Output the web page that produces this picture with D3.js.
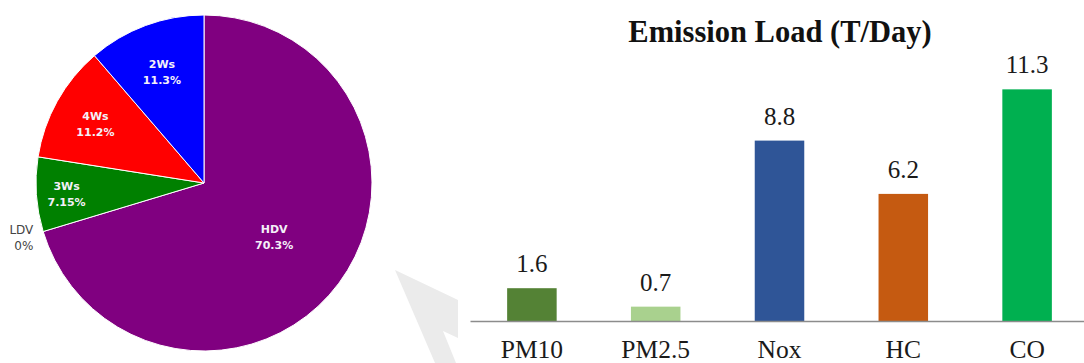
<!DOCTYPE html>
<html>
<head>
<meta charset="utf-8">
<script src="https://cdn.jsdelivr.net/npm/d3@7"></script>
<style>
  html, body { margin: 0; padding: 0; background: #fff; }
  svg { display: block; }
</style>
</head>
<body>
<svg id="chart" width="1084" height="363"></svg>
<script>
// Vehicle category shares (%) of emission load
const vehicleTypes = ["HDV", "LDV", "3Ws", "4Ws", "2Ws"];
const vehicleShares = [70.3, 0, 7.15, 11.2, 11.3];
const vehicleLabels = ["70.3%", "0%", "7.15%", "11.2%", "11.3%"];
const vehicleColors = ["#800080", "#1f77b4", "#008000", "#ff0000", "#0000ff"];

// Pollutant emission loads (T/Day)
const pollutants = ["PM10", "PM2.5", "Nox", "HC", "CO"];
const loads = [1.6, 0.7, 8.8, 6.2, 11.3];
const loadColors = ["#548235", "#a9d18e", "#2f5597", "#c55a11", "#00b050"];

const svg = d3.select("#chart");

// ---- decorative arrow behind the panels ----
svg.append("polygon")
  .attr("points", "395,270 458,300 458,338 443,331 456,363 435,363")
  .attr("fill", "#ebebeb");

// ---- pie chart ----
const cx = 204, cy = 183, R = 168;
const pie = d3.pie().sort(null).value(d => d.v);
const pieData = pie(vehicleTypes.map((t, i) => ({ t, v: vehicleShares[i], lbl: vehicleLabels[i], c: vehicleColors[i] })));
const arc = d3.arc().innerRadius(0).outerRadius(R);
const gPie = svg.append("g").attr("transform", `translate(${cx},${cy})`);

gPie.selectAll("path.slice")
  .data(pieData.filter(d => d.data.v > 0))
  .join("path")
  .attr("class", "slice")
  .attr("d", arc)
  .attr("fill", d => d.data.c)
  .attr("stroke", "#fff")
  .attr("stroke-width", 1);

// radial position of inside labels, as a fraction of the radius
const labelRadius = { "HDV": 0.52, "3Ws": 0.82, "4Ws": 0.74, "2Ws": 0.72 };
const font = "'DejaVu Sans', Verdana, sans-serif";

pieData.forEach(d => {
  const mid = (d.startAngle + d.endAngle) / 2;
  const inside = d.data.v > 0;
  let x, y, anchor;
  if (inside) {
    const r = R * labelRadius[d.data.t];
    x = Math.sin(mid) * r;
    y = -Math.cos(mid) * r;
    anchor = "middle";
  } else {
    const r = R + 4;
    x = Math.sin(mid) * r - 6;
    y = -Math.cos(mid) * r + 3;
    anchor = "end";
  }
  const t = gPie.append("text")
    .attr("text-anchor", anchor)
    .attr("font-family", font)
    .attr("font-size", inside ? 11 : 12)
    .attr("font-weight", inside ? "bold" : "normal")
    .attr("fill", inside ? "#f4f0f8" : "#444");
  t.append("tspan").attr("x", x).attr("y", y - 2).text(d.data.t);
  t.append("tspan").attr("x", x).attr("y", y + 14).text(d.data.lbl);
});

// ---- bar chart ----
const serif = "'Liberation Serif', 'Times New Roman', serif";
const x = d3.scaleBand().domain(pollutants).range([470, 1089]).paddingInner(0.6).paddingOuter(0.3);
const y = d3.scaleLinear().domain([0, 12]).range([321, 75]);

const gBar = svg.append("g");
gBar.selectAll("rect.bar")
  .data(pollutants)
  .join("rect")
  .attr("class", "bar")
  .attr("x", d => x(d))
  .attr("width", x.bandwidth())
  .attr("y", (d, i) => y(loads[i]))
  .attr("height", (d, i) => y(0) - y(loads[i]))
  .attr("fill", (d, i) => loadColors[i]);

const axis = gBar.append("g")
  .attr("transform", `translate(0,${y(0)})`)
  .call(d3.axisBottom(x).tickSize(0).tickPadding(0));
axis.select(".domain").attr("stroke", "#8c8c8c").attr("stroke-width", 1.5);
axis.selectAll(".tick text")
  .attr("dy", null)
  .attr("y", 36.5)
  .attr("font-family", serif)
  .attr("font-size", 25.5)
  .attr("fill", "#1a1a1a");

gBar.selectAll("text.value")
  .data(pollutants)
  .join("text")
  .attr("class", "value")
  .attr("x", d => x(d) + x.bandwidth() / 2)
  .attr("y", (d, i) => y(loads[i]) - 16)
  .attr("text-anchor", "middle")
  .attr("font-family", serif)
  .attr("font-size", 25)
  .attr("fill", "#1a1a1a")
  .text((d, i) => loads[i].toFixed(1));

svg.append("text")
  .attr("x", 780)
  .attr("y", 42)
  .attr("text-anchor", "middle")
  .attr("font-family", serif)
  .attr("font-weight", "bold")
  .attr("font-size", 30.5)
  .attr("fill", "#111")
  .text("Emission Load (T/Day)");
</script>
</body>
</html>
